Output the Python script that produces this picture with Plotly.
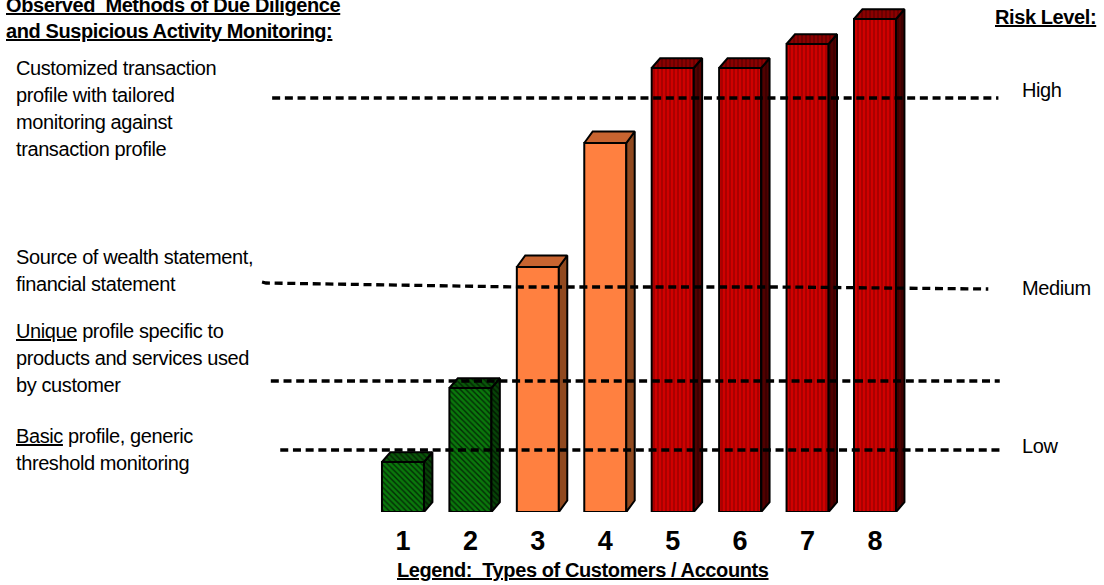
import plotly.graph_objects as go

# ---- data ----
account_types = [1, 2, 3, 4, 5, 6, 7, 8]
green_types = [1, 2]
green_values = [10.0, 24.8]
orange_types = [3, 4]
orange_values = [49.0, 73.8]
red_types = [5, 6, 7, 8]
red_values = [88.8, 88.8, 93.6, 98.6]

high_x = [-0.94, 9.83]
high_y = [82.8, 82.8]
medium_x = [-1.09, -1.03, 2.74, 6.59, 9.68]
medium_y = [46.0, 45.8, 45.0, 45.0, 44.6]
profile_x = [-0.96, 9.85]
profile_y = [26.2, 26.2]
low_x = [-0.82, 9.87]
low_y = [12.4, 12.4]

header_lines = ["Observed  Methods of Due Diligence", "and Suspicious Activity Monitoring:"]
risk_title = "Risk Level:"
legend_title = "Legend:  Types of Customers / Accounts"
custom_lines = ["Customized transaction", "profile with tailored", "monitoring against", "transaction profile"]
wealth_lines = ["Source of wealth statement,", "financial statement"]
unique_lines = ["<u>Unique</u> profile specific to", "products and services used", "by customer"]
basic_lines = ["<u>Basic</u> profile, generic", "threshold monitoring"]
risk_levels = ["High", "Medium", "Low"]

# ---- layout constants ----
W, H = 1104, 585
AXIS_PX = 512
BAR_W = 0.623
DX = 0.125
DY = 1.95
EDGE = 2
FONT = "Liberation Sans, Arial, sans-serif"

fig = go.Figure()

def bars(xs, vals, front, top, side, dy=DY):
    for x, v in zip(xs, vals):
        l, r = x - BAR_W / 2, x + BAR_W / 2
        fig.add_trace(go.Scatter(
            x=[r, r + DX, r + DX, r, r], y=[0, dy, v + dy, v, 0],
            mode="lines", fill="toself", fillcolor=side["bgcolor"], fillpattern=side,
            line=dict(color="black", width=EDGE), hoverinfo="skip"))
        fig.add_trace(go.Scatter(
            x=[l, l + DX, r + DX, r, l], y=[v, v + dy, v + dy, v, v],
            mode="lines", fill="toself", fillcolor=top["bgcolor"], fillpattern=top,
            line=dict(color="black", width=EDGE), hoverinfo="skip"))
    fig.add_trace(go.Bar(
        x=xs, y=vals, width=BAR_W,
        marker=dict(color=front["bgcolor"], pattern=front, line=dict(color="black", width=EDGE))))

green_front = dict(shape="\\", bgcolor="#042a06", fgcolor="#10c810", size=4, solidity=0.65)
green_top = dict(shape="\\", bgcolor="#032803", fgcolor="#108a10", size=4, solidity=0.6)
green_side = dict(shape="\\", bgcolor="#021c02", fgcolor="#0c6a0c", size=4, solidity=0.6)
bars(green_types, green_values, green_front, green_top, green_side)

orange_front = dict(shape="", bgcolor="#ff8040", fgcolor="#ff8040")
orange_top = dict(shape="", bgcolor="#c86430", fgcolor="#c86430")
orange_side = dict(shape="", bgcolor="#90491f", fgcolor="#90491f")
bars(orange_types, orange_values, orange_front, orange_top, orange_side, dy=2.3)

red_front = dict(shape="|", bgcolor="#e80000", fgcolor="#6a0000", size=4, solidity=0.7)
red_top = dict(shape="|", bgcolor="#a00000", fgcolor="#3c0000", size=4, solidity=0.7)
red_side = dict(shape="|", bgcolor="#5c0000", fgcolor="#200000", size=4, solidity=0.7)
bars(red_types, red_values, red_front, red_top, red_side)

for xs, ys in [(high_x, high_y), (medium_x, medium_y), (profile_x, profile_y), (low_x, low_y)]:
    fig.add_trace(go.Scatter(x=xs, y=ys, mode="lines",
                             line=dict(color="black", width=3.3, dash="8px,4.7px"), hoverinfo="skip"))

anns = []
def note(text, px, py, size=20, bold=False, underline=False):
    t = text
    if underline:
        t = f"<u>{t}</u>"
    if bold:
        t = f"<b>{t}</b>"
    anns.append(dict(text=t, xref="paper", yref="paper", x=px / W, y=(AXIS_PX - py) / AXIS_PX,
                     xanchor="left", yanchor="middle", align="left", showarrow=False, borderpad=0,
                     font=dict(family=FONT, size=size, color="black")))

for line, py in zip(header_lines, [5, 31]):
    note(line, 5, py, bold=True, underline=True)
note(risk_title, 994, 17, bold=True, underline=True)
note(legend_title, 396, 570, bold=True, underline=True)
for line, py in zip(custom_lines, [68, 95, 122, 149]):
    note(line, 15, py)
for line, py in zip(wealth_lines, [257, 284]):
    note(line, 15, py)
for line, py in zip(unique_lines, [331, 358, 385]):
    note(line, 15, py)
for line, py in zip(basic_lines, [436, 463]):
    note(line, 15, py)
for level, py in zip(risk_levels, [90, 288, 446]):
    note(level, 1021, py)

fig.update_layout(
    width=W, height=H, margin=dict(l=0, r=0, t=0, b=H - AXIS_PX, pad=0, autoexpand=False),
    paper_bgcolor="white", plot_bgcolor="white", showlegend=False, barmode="overlay",
    annotations=anns,
    xaxis=dict(range=[-4.976, 11.396], tickmode="array", tickvals=account_types,
               ticktext=[str(a) for a in account_types], showgrid=False, zeroline=False, showline=False,
               ticks="outside", ticklen=5, tickcolor="rgba(0,0,0,0)",
               tickfont=dict(family=FONT, size=27, color="black", weight=700), fixedrange=True),
    yaxis=dict(range=[0, 102.4], visible=False, fixedrange=True),
)

post = """
var s = document.createElement('style');
s.textContent = 'html,body{margin:0;padding:0;overflow:hidden}'
  + ' .annotation-text{letter-spacing:-0.4px}';
document.head.appendChild(s);
"""
fig.write_html("out.html", post_script=post, config={"displayModeBar": False})
